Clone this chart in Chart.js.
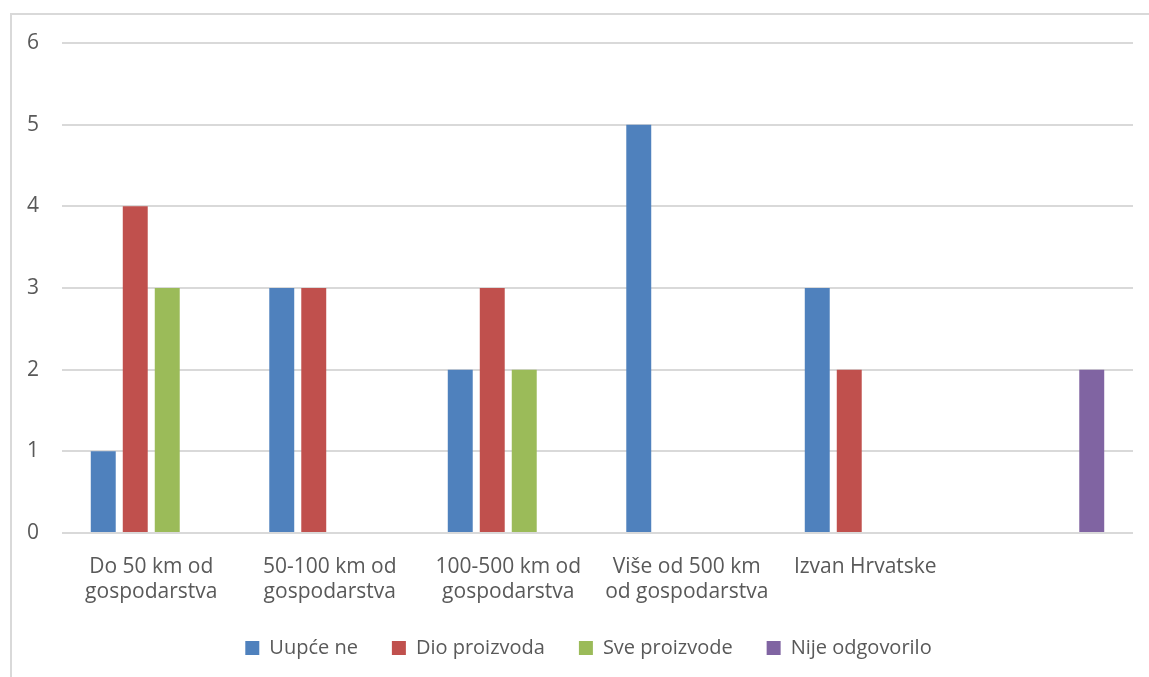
<!DOCTYPE html>
<html>
<head>
<meta charset="utf-8">
<title>Udaljenost prodaje</title>
<script src="https://cdn.jsdelivr.net/npm/chart.js@4.4.0/dist/chart.umd.min.js"></script>
<style>
    html, body { margin: 0; padding: 0; background: #fff; overflow: hidden; }
    #frame {
        position: absolute; left: 10px; top: 13px; width: 1160px; height: 700px;
        border-left: 2px solid #d9d9d9; border-top: 2px solid #d9d9d9;
    }
    #wrap { position: absolute; left: 0; top: 0; width: 1149px; height: 677px; }
</style>
</head>
<body>
<div id="frame"></div>
<div id="wrap"><canvas id="myChart" width="1149" height="677"></canvas></div>
<script>
    'use strict'

    // Data
    const categories = [
        ['Do 50 km od', 'gospodarstva'],
        ['50-100 km od', 'gospodarstva'],
        ['100-500 km od', 'gospodarstva'],
        ['Više od 500 km', 'od gospodarstva'],
        'Izvan Hrvatske',
        ''
    ]
    const seriesNames = ['Uupće ne', 'Dio proizvoda', 'Sve proizvode', 'Nije odgovorilo']
    const uupceNe = [1, 3, 2, 5, 3, null]
    const dioProizvoda = [4, 3, 3, null, 2, null]
    const sveProizvode = [3, null, 2, null, null, null]
    const nijeOdgovorilo = [null, null, null, null, null, 2]
    const yTicks = [0, 1, 2, 3, 4, 5, 6]

    const colors = ['#4f81bd', '#c0504d', '#9bbb59', '#8064a2']
    const textColor = '#595959'
    const gridColor = '#d9d9d9'
    const fontFamily = '"Open Sans", "Noto Sans", sans-serif'

    // legend in the original sits a bit right of the page centre
    const shiftLegend = {
        id: 'shiftLegend',
        afterLayout (chart) {
            if (chart.legend) chart.legend.left += 44
        }
    }

    const ctx = document.getElementById('myChart')
    // eslint-disable-next-line no-unused-vars
    const myChart = new Chart(ctx, {
        type: 'bar',
        data: {
            labels: categories,
            datasets: [uupceNe, dioProizvoda, sveProizvode, nijeOdgovorilo].map((values, i) => ({
                label: seriesNames[i],
                data: values,
                backgroundColor: colors[i],
                borderWidth: 0,
                categoryPercentage: 0.717,
                barPercentage: 0.78
            }))
        },
        plugins: [shiftLegend],
        options: {
            responsive: false,
            animation: false,
            devicePixelRatio: 1,
            layout: {
                padding: { left: 0, right: 16, top: 43, bottom: 9 }
            },
            scales: {
                x: {
                    grid: { display: false },
                    border: { display: false },
                    ticks: {
                        color: textColor,
                        font: { family: fontFamily, size: 21, lineHeight: 1.2 },
                        padding: 13,
                        maxRotation: 0,
                        autoSkip: false
                    },
                    afterFit: (scale) => { scale.height = 71 }
                },
                y: {
                    min: yTicks[0],
                    max: yTicks[yTicks.length - 1],
                    afterBuildTicks: (scale) => { scale.ticks = yTicks.map(v => ({ value: v })) },
                    grid: { color: gridColor, lineWidth: 2, drawTicks: false },
                    border: { display: false },
                    ticks: {
                        color: textColor,
                        font: { family: fontFamily, size: 21 },
                        padding: 23
                    },
                    afterFit: (scale) => { scale.width = 62 }
                }
            },
            plugins: {
                legend: {
                    position: 'bottom',
                    labels: {
                        color: textColor,
                        font: { family: fontFamily, size: 20 },
                        boxWidth: 14,
                        boxHeight: 14,
                        padding: 34
                    }
                },
                tooltip: { enabled: false }
            }
        }
    })
</script>
</body>
</html>
